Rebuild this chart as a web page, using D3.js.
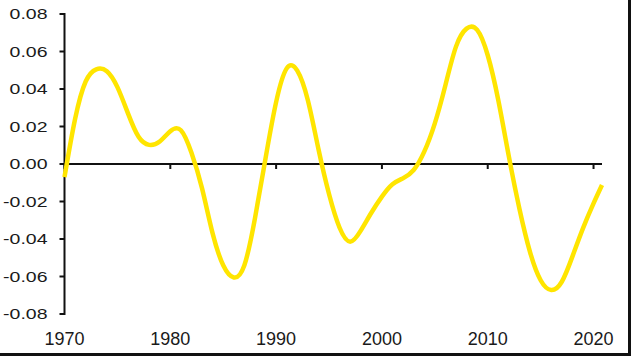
<!DOCTYPE html>
<html>
<head>
<meta charset="utf-8">
<script src="https://cdn.jsdelivr.net/npm/d3@7"></script>
<style>
  html, body { margin: 0; padding: 0; background: #fff; }
  svg { display: block; }
  text { font-family: "Liberation Sans", Arial, Helvetica, sans-serif; fill: #1a1a1a; }
</style>
</head>
<body>
<svg id="chart" width="631" height="356"></svg>
<script>
// ---- data ----
const years = [1970, 1971, 1972, 1973, 1974, 1975, 1976, 1977, 1978, 1979, 1980, 1981, 1982,
  1983, 1984, 1985, 1986, 1987, 1988, 1989, 1990, 1991, 1992, 1993, 1994, 1995, 1996, 1997,
  1998, 1999, 2000, 2001, 2002, 2003, 2004, 2005, 2006, 2007, 2008, 2009, 2010, 2011, 2012,
  2013, 2014, 2015, 2016, 2017, 2018, 2019, 2020, 2020.8];
const values = [-0.007, 0.024, 0.044, 0.0505, 0.0495, 0.041, 0.027, 0.0145, 0.0102, 0.012, 0.0175, 0.018, 0.006,
  -0.013, -0.037, -0.054, -0.0605, -0.054, -0.029, 0.003, 0.033, 0.051, 0.0498, 0.034, 0.008, -0.016, -0.034, -0.0414,
  -0.0355, -0.026, -0.0174, -0.0108, -0.0076, -0.0032, 0.0066, 0.0217, 0.042, 0.0626, 0.0722, 0.0715, 0.058, 0.034, 0.0039,
  -0.024, -0.047, -0.062, -0.0672, -0.0628, -0.0494, -0.0343, -0.021, -0.0112];
const yTicks = [-0.08, -0.06, -0.04, -0.02, 0, 0.02, 0.04, 0.06, 0.08];
const xTicks = [1970, 1980, 1990, 2000, 2010, 2020];

const data = years.map((y, i) => ({ year: y, value: values[i] }));

const svg = d3.select("#chart");
const x = d3.scaleLinear().domain([1970, 2020.8]).range([64.5, 602]);
const y = d3.scaleLinear().domain([-0.08, 0.08]).range([314, 14]);

// frame strips (right and bottom)
svg.append("rect").attr("x", 628).attr("y", 0).attr("width", 3).attr("height", 356).attr("fill", "#111");
svg.append("rect").attr("x", 0).attr("y", 353).attr("width", 631).attr("height", 3).attr("fill", "#111");

// y axis
const yAxis = svg.append("g");
yAxis.append("line").attr("x1", x(1970)).attr("x2", x(1970))
  .attr("y1", y(0.08) - 1).attr("y2", y(-0.08) + 1)
  .attr("stroke", "#111").attr("stroke-width", 2);
yAxis.selectAll("line.tick").data(yTicks).join("line").attr("class", "tick")
  .attr("x1", x(1970) - 5).attr("x2", x(1970))
  .attr("y1", d => y(d)).attr("y2", d => y(d))
  .attr("stroke", "#111").attr("stroke-width", 2);
yAxis.selectAll("g.lab").data(yTicks).join("g").attr("class", "lab")
  .attr("transform", d => `translate(47.5,${y(d)}) scale(1.3,1)`)
  .append("text")
  .attr("text-anchor", "end").attr("dy", "0.35em")
  .attr("font-size", 15)
  .text(d => d.toFixed(2));

// x axis at zero
const xAxis = svg.append("g");
xAxis.append("line").attr("x1", x(1970)).attr("x2", x(2020.8))
  .attr("y1", y(0)).attr("y2", y(0))
  .attr("stroke", "#111").attr("stroke-width", 2);
xAxis.selectAll("line.tick").data(xTicks).join("line").attr("class", "tick")
  .attr("x1", d => x(d)).attr("x2", d => x(d))
  .attr("y1", y(0)).attr("y2", y(0) + 5)
  .attr("stroke", "#111").attr("stroke-width", 2);
xAxis.selectAll("text").data(xTicks).join("text")
  .attr("x", d => x(d)).attr("y", 345)
  .attr("text-anchor", "middle").attr("font-size", 18)
  .text(d => d);

// series
const line = d3.line().x(d => x(d.year)).y(d => y(d.value)).curve(d3.curveNatural);
svg.append("path").datum(data)
  .attr("d", line)
  .attr("fill", "none")
  .attr("stroke", "#FFE500")
  .attr("stroke-width", 4.5)
  .attr("stroke-linejoin", "round")
  .attr("stroke-linecap", "butt");
</script>
</body>
</html>
